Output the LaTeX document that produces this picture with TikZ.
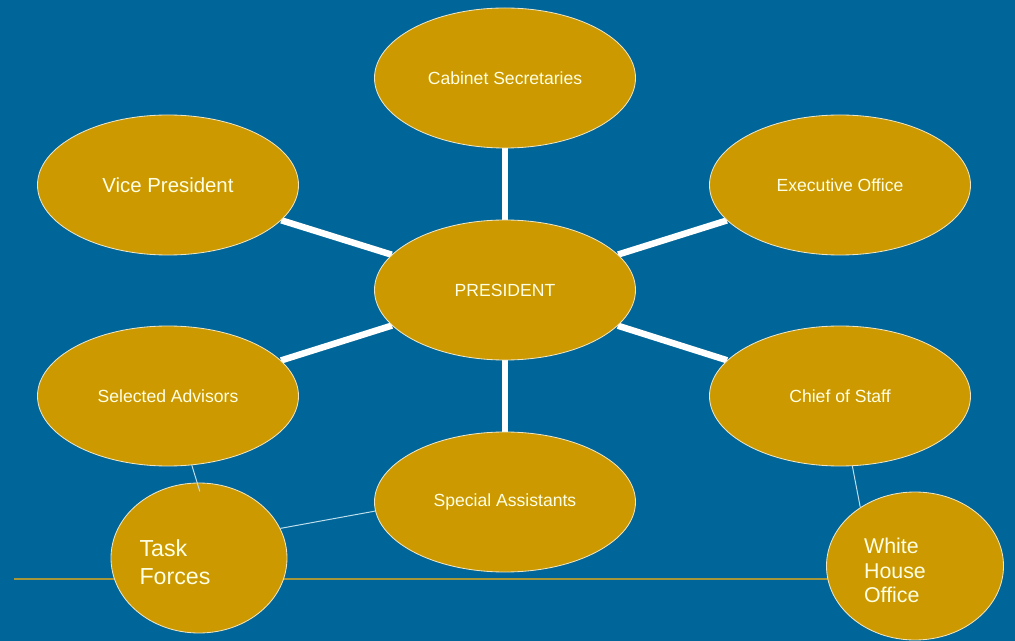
\documentclass[tikz,border=0pt]{standalone}
\usepackage{fontspec}
\setmainfont{Liberation Sans}
\usetikzlibrary{positioning,shapes.geometric}

\definecolor{slideblue}{RGB}{0,102,153}
\definecolor{gold}{RGB}{204,153,0}
\definecolor{cream}{RGB}{255,255,228}
\definecolor{rim}{RGB}{236,228,196}
\definecolor{thinline}{RGB}{190,222,236}
\definecolor{olive}{RGB}{168,150,58}

\pgfdeclarelayer{back}
\pgfsetlayers{back,main}

\begin{document}
\begin{tikzpicture}[
  on grid,
  oval/.style={ellipse, fill=gold, draw=rim, line width=0.6pt, inner sep=0pt,
    minimum width=6.525cm, minimum height=3.5cm, text=cream,
    font=\fontsize{12.5}{15}\selectfont},
  small oval/.style={oval, minimum width=4.4cm, minimum height=3.75cm},
  spoke/.style={white, line width=4.6pt},
  link/.style={thinline, line width=0.7pt}
]

% nodes %

\node[oval] (pres) at (0,0) {PRESIDENT};
\node[oval, above = 5.3cm of pres] (cab) {Cabinet Secretaries};
\node[oval, above left = 2.625cm and 8.425cm of pres, font=\fontsize{14.5}{17}\selectfont] (vp) {Vice President};
\node[oval, above right = 2.625cm and 8.375cm of pres] (exec) {Executive Office};
\node[oval, below left = 2.65cm and 8.425cm of pres] (sel) {Selected Advisors};
\node[oval, below right = 2.65cm and 8.375cm of pres] (chief) {Chief of Staff};
\node[oval, below = 5.3cm of pres] (spec) {Special Assistants};
\node[small oval, below right = 4.05cm and 0.775cm of sel,
  label={[text=cream, align=left, xshift=-0.6cm, yshift=-0.1cm,
    font=\fontsize{16.5}{19.8}\selectfont]center:Task\\Forces}] (task) {};
\node[small oval, minimum width=4.425cm, minimum height=3.7cm, below right = 4.25cm and 1.875cm of chief,
  label={[text=cream, align=left, xshift=-0.5cm, yshift=-0.11cm,
    font=\fontsize{15.2}{17.4}\selectfont]center:White\\House\\Office}] (who) {};

\coordinate (rule) at (-12.275,-7.225);

% edges %

\begin{pgfonlayer}{back}
\fill[slideblue] (-12.625,7.25) rectangle (12.75,-8.775);
\draw[olive, line width=1.4pt] (rule) -- (rule -| who);
\draw[spoke] (pres) -- (cab);
\draw[spoke] (pres) -- (vp);
\draw[spoke] (pres) -- (exec);
\draw[spoke] (pres) -- (sel);
\draw[spoke] (pres) -- (chief);
\draw[spoke] (pres) -- (spec);
\end{pgfonlayer}

\draw[link] (sel.-71) -- ([shift={(0.02,-0.22)}]task.north);
\draw[link] (spec.184) -- (task.20);
\draw[link] (chief.-80) -- (who.133);

\useasboundingbox (-12.625,7.25) rectangle (12.75,-8.775);

\end{tikzpicture}
\end{document}
